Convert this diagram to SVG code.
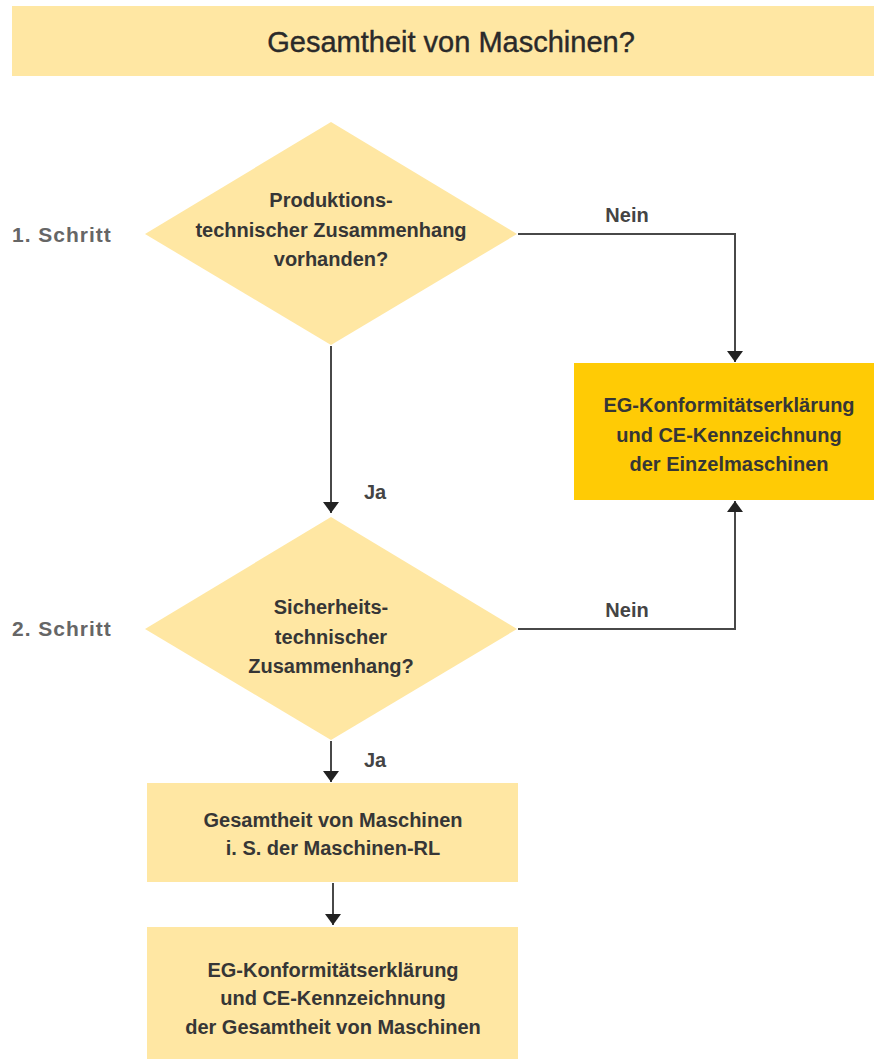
<svg xmlns="http://www.w3.org/2000/svg" width="874" height="1061" viewBox="0 0 874 1061">
<style>
.light{fill:#FFE7A3}
.dark{fill:#FFCB05}
.t{font-family:"Liberation Sans",Arial,sans-serif;font-weight:bold;font-size:20px;fill:#363636;text-anchor:middle}
.title{font-family:"Liberation Sans",Arial,sans-serif;font-size:29px;fill:#2a2a2a;stroke:#2a2a2a;stroke-width:0.4;text-anchor:middle}
.step{font-family:"Liberation Sans",Arial,sans-serif;font-weight:bold;font-size:21px;letter-spacing:1px;fill:#666;}
.lbl{font-family:"Liberation Sans",Arial,sans-serif;font-weight:bold;font-size:20px;fill:#444;text-anchor:middle}
.c{fill:none;stroke:#484848;stroke-width:2}
</style>
<defs>
<marker id="arr" markerUnits="userSpaceOnUse" markerWidth="11" markerHeight="16" refX="11" refY="8" orient="auto" viewBox="0 0 11 16">
<path d="M0,0 L11,8 L0,16 z" fill="#222"/>
</marker>
</defs>
<rect width="874" height="1061" fill="#fff"/>
<g id="title">
<rect class="light" x="12" y="6" width="862" height="70"/>
<text class="title" x="451" y="52">Gesamtheit von Maschinen?</text>
</g>
<g id="step1"><text class="step" x="12" y="242">1. Schritt</text></g>
<g id="step2"><text class="step" x="12" y="636">2. Schritt</text></g>
<g id="connectors">
<path class="c" d="M518,234 H735 V362" marker-end="url(#arr)"/>
<path class="c" d="M331,346 V513" marker-end="url(#arr)"/>
<path class="c" d="M518,629 H735 V501" marker-end="url(#arr)"/>
<path class="c" d="M331,741 V782" marker-end="url(#arr)"/>
<path class="c" d="M333,883 V925" marker-end="url(#arr)"/>
<text class="lbl" x="627" y="222">Nein</text>
<text class="lbl" x="627" y="617">Nein</text>
<text class="lbl" x="375" y="499">Ja</text>
<text class="lbl" x="375" y="767">Ja</text>
</g>
<g id="decision1">
<polygon class="light" points="331,122 517,234 331,345 145,234"/>
<text class="t" x="331" y="207">Produktions-</text>
<text class="t" x="331" y="237">technischer Zusammenhang</text>
<text class="t" x="331" y="266">vorhanden?</text>
</g>
<g id="einzel">
<rect class="dark" x="574" y="363" width="300" height="137"/>
<text class="t" x="729" y="412">EG-Konformitätserklärung</text>
<text class="t" x="729" y="442">und CE-Kennzeichnung</text>
<text class="t" x="729" y="471">der Einzelmaschinen</text>
</g>
<g id="decision2">
<polygon class="light" points="331,517 517,629 331,740 145,629"/>
<text class="t" x="331" y="614">Sicherheits-</text>
<text class="t" x="331" y="644">technischer</text>
<text class="t" x="331" y="673">Zusammenhang?</text>
</g>
<g id="gesamtheit">
<rect class="light" x="147" y="783" width="371" height="99"/>
<text class="t" x="333" y="827">Gesamtheit von Maschinen</text>
<text class="t" x="333" y="855">i. S. der Maschinen-RL</text>
</g>
<g id="konformitaet">
<rect class="light" x="147" y="927" width="371" height="132"/>
<text class="t" x="333" y="977">EG-Konformitätserklärung</text>
<text class="t" x="333" y="1005">und CE-Kennzeichnung</text>
<text class="t" x="333" y="1034">der Gesamtheit von Maschinen</text>
</g>
</svg>
